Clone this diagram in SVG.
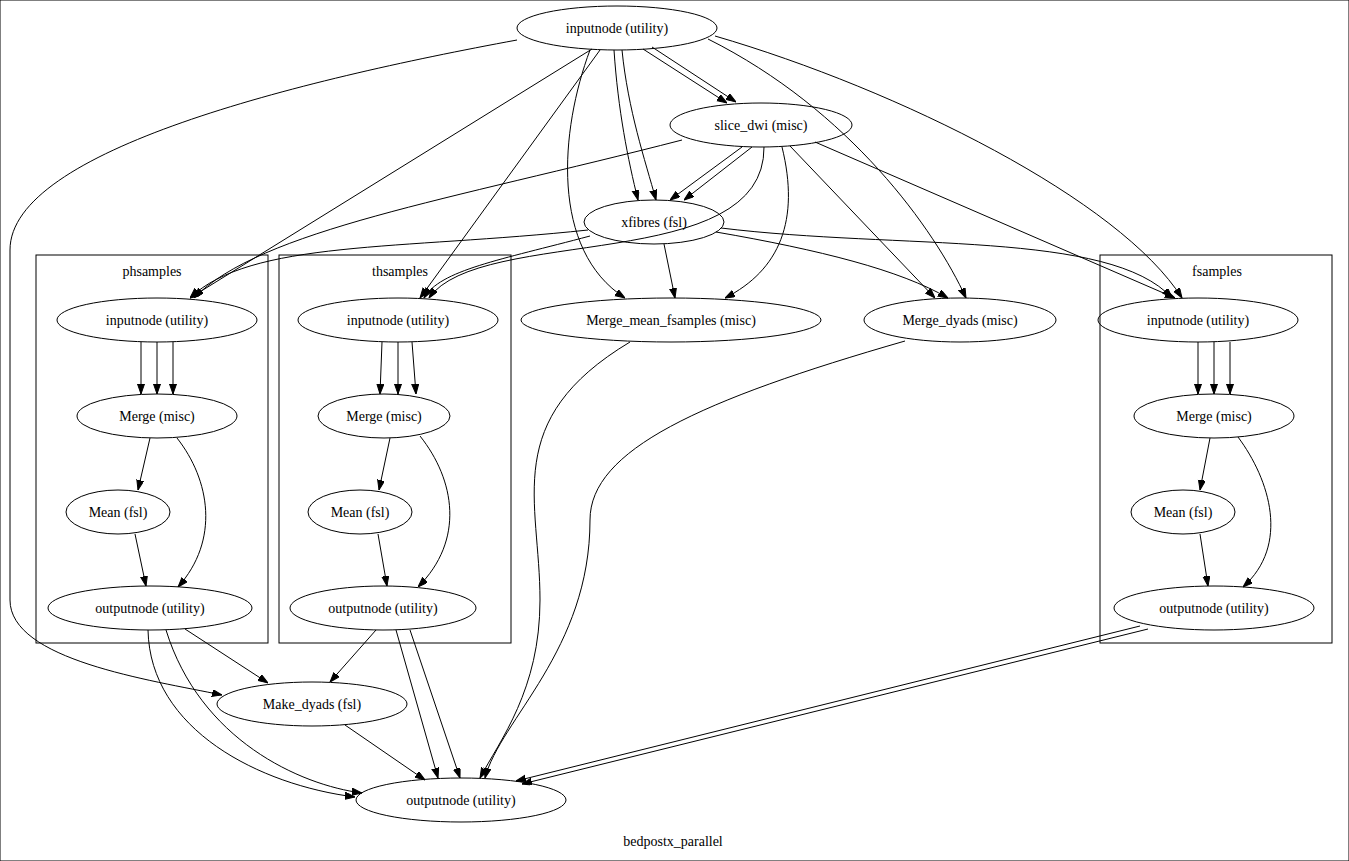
<svg xmlns="http://www.w3.org/2000/svg" width="1349" height="861" viewBox="0 0 1349 861">
<style>
text{font-family:"Liberation Serif","Times New Roman",serif;font-size:14px;text-anchor:middle;fill:#000}
ellipse,rect{fill:none;stroke:#000;stroke-width:1}
.e path{fill:none;stroke:#000;stroke-width:1;marker-end:url(#a)}
</style>
<defs><marker id="a" markerUnits="userSpaceOnUse" markerWidth="10" markerHeight="8" refX="10" refY="3.5" orient="auto"><path d="M0,0 L10,3.5 L0,7 z" fill="#000" stroke="#000"/></marker></defs>
<rect width="1349" height="861" fill="#fff" stroke="none"/>
<g id="cl_ph"><rect x="36" y="255" width="232" height="388"/><text x="152" y="276">phsamples</text></g>
<g id="cl_th"><rect x="279" y="255" width="232" height="388"/><text x="400" y="276">thsamples</text></g>
<g id="cl_f"><rect x="1100" y="255" width="232" height="388"/><text x="1217" y="276">fsamples</text></g>
<g id="inputnode"><ellipse cx="617" cy="28" rx="100" ry="22"/><text x="617" y="33">inputnode (utility)</text></g>
<g id="slice_dwi"><ellipse cx="761" cy="125" rx="91" ry="22"/><text x="761" y="130">slice_dwi (misc)</text></g>
<g id="xfibres"><ellipse cx="654" cy="222" rx="70" ry="22"/><text x="654" y="227">xfibres (fsl)</text></g>
<g id="ph_in"><ellipse cx="157" cy="320" rx="100" ry="22"/><text x="157" y="325">inputnode (utility)</text></g>
<g id="ph_merge"><ellipse cx="157" cy="416" rx="80" ry="22"/><text x="157" y="421">Merge (misc)</text></g>
<g id="ph_mean"><ellipse cx="118" cy="512" rx="52" ry="22"/><text x="118" y="517">Mean (fsl)</text></g>
<g id="ph_out"><ellipse cx="150" cy="608" rx="102" ry="22"/><text x="150" y="613">outputnode (utility)</text></g>
<g id="th_in"><ellipse cx="398" cy="320" rx="100" ry="22"/><text x="398" y="325">inputnode (utility)</text></g>
<g id="th_merge"><ellipse cx="384" cy="416" rx="66" ry="22"/><text x="384" y="421">Merge (misc)</text></g>
<g id="th_mean"><ellipse cx="360" cy="512" rx="52" ry="22"/><text x="360" y="517">Mean (fsl)</text></g>
<g id="th_out"><ellipse cx="383" cy="608" rx="93" ry="22"/><text x="383" y="613">outputnode (utility)</text></g>
<g id="mmf"><ellipse cx="671" cy="320" rx="150" ry="22"/><text x="671" y="325">Merge_mean_fsamples (misc)</text></g>
<g id="md"><ellipse cx="960" cy="320" rx="96" ry="22"/><text x="960" y="325">Merge_dyads (misc)</text></g>
<g id="f_in"><ellipse cx="1198" cy="320" rx="100" ry="22"/><text x="1198" y="325">inputnode (utility)</text></g>
<g id="f_merge"><ellipse cx="1214" cy="416" rx="80" ry="22"/><text x="1214" y="421">Merge (misc)</text></g>
<g id="f_mean"><ellipse cx="1183" cy="512" rx="52" ry="22"/><text x="1183" y="517">Mean (fsl)</text></g>
<g id="f_out"><ellipse cx="1214" cy="608" rx="100" ry="22"/><text x="1214" y="613">outputnode (utility)</text></g>
<g id="mkd"><ellipse cx="312" cy="704" rx="95" ry="22"/><text x="312" y="709">Make_dyads (fsl)</text></g>
<g id="out"><ellipse cx="461" cy="800" rx="105" ry="22"/><text x="461" y="805">outputnode (utility)</text></g>
<text x="673" y="846">bedpostx_parallel</text>
<g id="edges" class="e">
<path d="M643,49 L727,103"/><path d="M652,47 L736,102"/>
<path d="M614,50 C618,110 628,160 638,200"/><path d="M622,50 C628,110 645,160 656,200"/>
<path d="M592,49 L190,298"/>
<path d="M600,50 L420,298"/>
<path d="M590,50 C560,130 550,250 625,298"/>
<path d="M708,39 C850,110 935,230 966,298"/>
<path d="M715,36 C900,90 1120,200 1182,298"/>
<path d="M517,40 C300,80 10,150 10,250 L10,600 C10,660 150,680 222,695"/>
<path d="M682,140 C450,200 260,230 194,298"/>
<path d="M742,147 L670,200"/><path d="M752,147 L684,200"/>
<path d="M764,147 C765,275 480,225 429,298"/>
<path d="M782,147 C800,220 780,270 725,298"/>
<path d="M790,146 L935,298"/>
<path d="M815,142 L1175,298"/>
<path d="M588,230 C400,250 250,240 190,298"/>
<path d="M590,236 C500,260 440,270 424,298"/>
<path d="M664,244 L675,298"/>
<path d="M716,232 C820,250 900,270 948,298"/>
<path d="M721,228 C900,250 1110,230 1172,298"/>
<path d="M141,342 L141,394"/><path d="M157,342 L157,394"/><path d="M173,342 L173,394"/>
<path d="M150,438 L138,490"/><path d="M177,438 C210,480 220,540 178,587"/><path d="M135,534 L146,586"/>
<path d="M382,342 L380,394"/><path d="M398,342 L398,394"/><path d="M412,342 L416,394"/>
<path d="M390,438 L379,490"/><path d="M420,436 C455,480 465,540 418,587"/><path d="M378,534 L387,586"/>
<path d="M1198,342 L1198,394"/><path d="M1214,342 L1214,394"/><path d="M1230,342 L1230,394"/>
<path d="M1210,438 L1200,490"/><path d="M1238,437 C1270,480 1290,545 1243,587"/><path d="M1200,534 L1208,586"/>
<path d="M185,629 L268,683"/>
<path d="M148,630 C150,730 260,785 355,797"/><path d="M166,630 C200,740 300,785 362,793"/>
<path d="M376,630 L330,682"/>
<path d="M396,630 L438,778"/><path d="M410,630 L460,778"/>
<path d="M345,725 L425,780"/>
<path d="M630,342 C500,420 540,500 540,600 C540,690 500,740 480,778"/>
<path d="M905,341 C700,400 590,450 590,520 C590,650 500,720 485,778"/>
<path d="M1140,626 L516,781"/><path d="M1148,629 L522,784"/>
</g>
</svg>
